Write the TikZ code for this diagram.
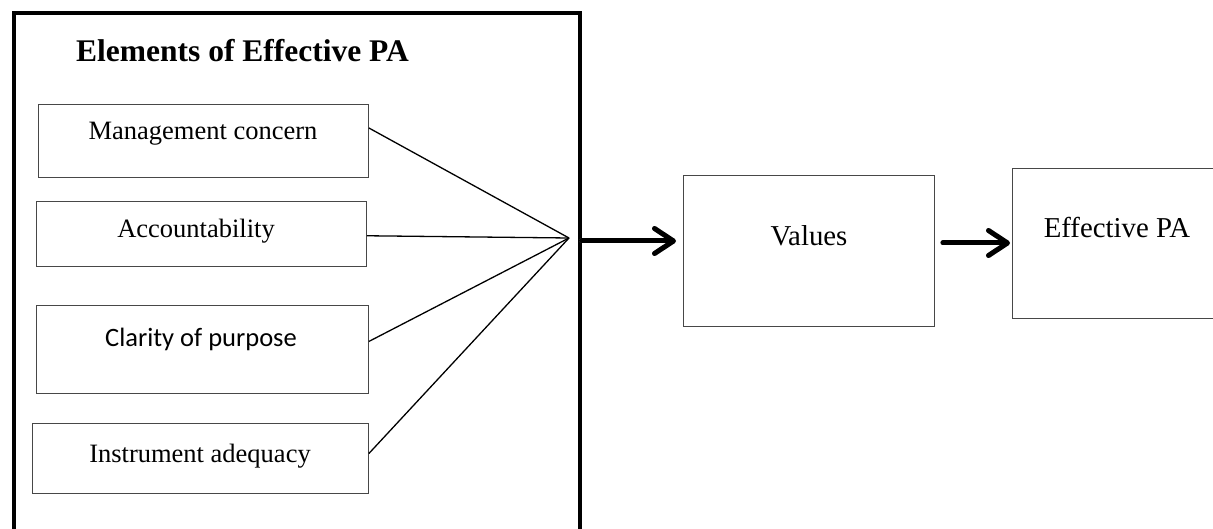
\documentclass[tikz,border=0pt]{standalone}
\usepackage{fontspec}
\setmainfont{Liberation Serif}
\newfontfamily\calibfont{Carlito}
\usetikzlibrary{arrows.meta,calc}
\begin{document}
\begin{tikzpicture}[x=1pt,y=-1pt,
  elbox/.style={draw=black!72, line width=0.9pt, anchor=north west, inner sep=0pt},
  lbl/.style={anchor=base, inner sep=0pt, font=\fontsize{26.5}{30}\selectfont},
  biglbl/.style={anchor=base, inner sep=0pt, font=\fontsize{28.8}{32}\selectfont},
  fan/.style={line width=1.3pt, draw=black},
  bigarrow/.style={line width=5pt, line cap=round, draw=black,
    -{Straight Barb[length=19pt,width=25pt,line cap=round,line join=round]}},
  arrowshadow/.style={bigarrow, draw=black!30, opacity=0.45, xshift=1.5pt, yshift=-3pt},
]
\useasboundingbox (0,0) rectangle (1213,529);
\fill[white] (0,0) rectangle (1213,529);

% outer frame (open at the bottom of the picture)
\node[draw, line width=3.6pt, anchor=north west, minimum width=566pt,
      minimum height=560pt, inner sep=0pt] (frame) at (12,11) {};
\node[anchor=base west, inner sep=0pt, font=\bfseries\fontsize{31.5}{36}\selectfont]
      (title) at (76,62) {Elements of Effective PA};

% element boxes
\node[elbox, minimum width=330pt, minimum height=72.5pt] (b1) at (38,104.5) {};
\node[elbox, minimum width=330pt, minimum height=65pt] (b2) at (36,201.5) {};
\node[elbox, minimum width=332pt, minimum height=88pt] (b3) at (36,305) {};
\node[elbox, minimum width=336pt, minimum height=70pt] (b4) at (32,423) {};

\node[lbl] (t1) at (203,140) {Management concern};
\node[lbl] (t2) at (196,238) {Accountability};
\node[lbl, font=\calibfont\fontsize{26.5}{30}\selectfont] (t3) at (201,347) {Clarity of purpose};
\node[lbl] (t4) at (200,462) {Instrument adequacy};

% values and outcome
\node[elbox, minimum width=251pt, minimum height=150.5pt] (vals) at (683,175.5) {};
\node[elbox, minimum width=200.5pt, minimum height=150pt] (eff) at (1012,168) {};
\node[biglbl] (tv) at (809,246) {Values};
\node[biglbl] (te) at (1117,238) {Effective PA};

% fan of connectors
\coordinate (hub) at (569,238);
\draw[fan] ($(b1.north east)!0.32!(b1.south east)$) -- (hub);
\draw[fan] ($(b2.north east)!0.52!(b2.south east)$) -- (hub);
\draw[fan] ($(b3.north east)!0.41!(b3.south east)$) -- (hub);
\draw[fan] ($(b4.north east)!0.43!(b4.south east)$) -- (hub);

% thick arrows
\coordinate (s1) at (frame.east |- 0,241);
\coordinate (s2) at (vals.east |- 0,243);
\draw[arrowshadow, shorten >=7pt] (s1) -- (vals.west |- s1);
\draw[arrowshadow, shorten <=8pt, shorten >=2pt] (s2) -- (eff.west |- s2);
\draw[bigarrow, shorten >=7pt] (s1) -- (vals.west |- s1);
\draw[bigarrow, shorten <=8pt, shorten >=2pt] (s2) -- (eff.west |- s2);
\end{tikzpicture}
\end{document}
